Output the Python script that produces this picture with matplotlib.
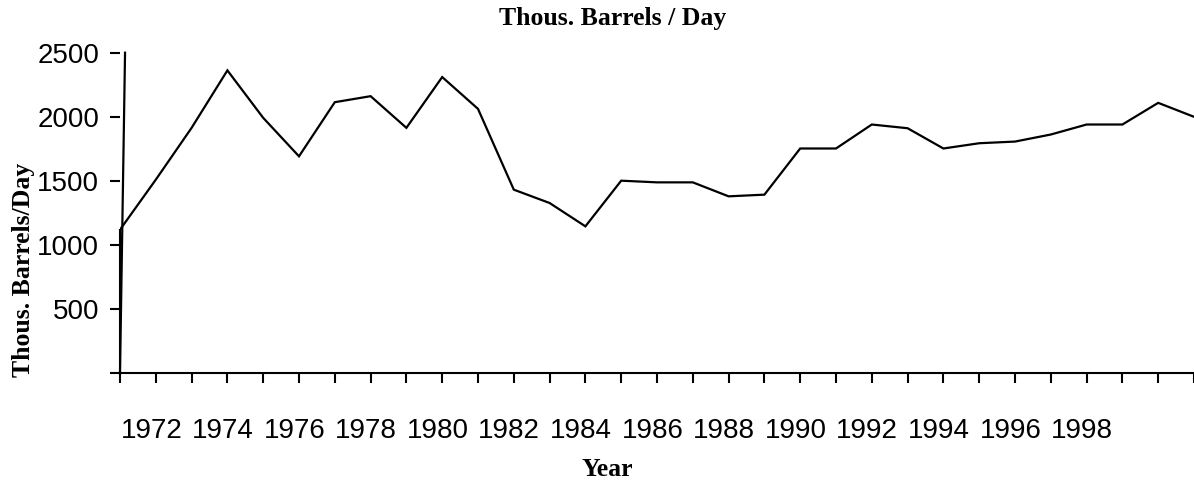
import numpy as np
import matplotlib
matplotlib.use('Agg')
import matplotlib.pyplot as plt
import matplotlib.transforms as mtransforms

# Data
years = list(range(1971, 2002))
barrels = [1120, 1510, 1914, 2362, 1992, 1692, 2114, 2161, 1914, 2310,
           2062, 1432, 1328, 1146, 1502, 1489, 1489, 1380, 1393, 1753,
           1753, 1940, 1911, 1753, 1794, 1807, 1862, 1940, 1940, 2109,
           2000]
ytick_vals = [0, 500, 1000, 1500, 2000, 2500]
ytick_labels = ['', '500', '1000', '1500', '2000', '2500']
label_years = list(range(1972, 2000, 2))

fig = plt.figure(figsize=(11.94, 4.83), dpi=100)
fig.patch.set_facecolor('white')
ax = fig.add_axes([0.1005, 0.2271, 0.8995, 0.6638])

ax.plot(years, barrels, color='k', linewidth=1.6, solid_joinstyle='miter')

ax.set_xlim(1971, 2000.83)
ax.set_ylim(0, 2500)

# axis styling
for s in ['top', 'right']:
    ax.spines[s].set_visible(False)
ax.spines['bottom'].set_linewidth(1.5)
ax.spines['left'].set_linewidth(1.5)
ax.spines['left'].set_bounds(0, barrels[0])
# the slanted axis line seen in the original
ax.plot([0, 0.0047], [0, 1], transform=ax.transAxes, color='k',
        linewidth=1.6, clip_on=False)

ax.set_xticks(years)
ax.set_xticklabels([str(y) if y in label_years else '' for y in years],
                   fontname='Liberation Sans', fontsize=20)
ax.tick_params(axis='x', direction='out', length=7, width=1.5, pad=25)
offset = mtransforms.ScaledTranslation(-4.5 / 100, 0, fig.dpi_scale_trans)
for lab in ax.get_xticklabels():
    lab.set_transform(lab.get_transform() + offset)

ax.set_yticks(ytick_vals)
ax.set_yticklabels(ytick_labels, fontname='Liberation Sans', fontsize=20)
ax.tick_params(axis='y', direction='out', length=7, width=1.5, pad=8)

# titles
fig.text(613 / 1194, 1 - 18 / 483, 'Thous. Barrels / Day', ha='center',
         va='center', fontname='Liberation Serif', fontweight='bold',
         fontsize=18.5)
fig.text(607 / 1194, 1 - 469 / 483, 'Year', ha='center', va='center',
         fontname='Liberation Serif', fontweight='bold', fontsize=18.5)
fig.text(24 / 1194, 1 - 270 / 483, 'Thous. Barrels/Day', ha='center',
         va='center', rotation=90, fontname='Liberation Serif',
         fontweight='bold', fontsize=18.5)

fig.savefig('out.png', dpi=100)
